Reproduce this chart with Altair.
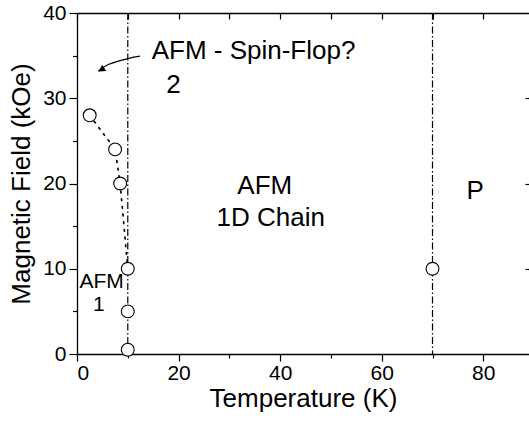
import altair as alt
import pandas as pd

# ---- data ----
pt_T = [2.5, 7.5, 8.5, 10.0, 10.0, 10.0, 70.0]
pt_H = [28.0, 24.0, 20.0, 10.0, 5.0, 0.5, 10.0]

dot_T = [2.5, 7.5, 8.5, 10.0]
dot_H = [28.0, 24.0, 20.0, 10.0]

boundary_T = [10, 70]

label_text = ["AFM - Spin-Flop?", "2", "AFM", "1D Chain", "P", "AFM", "1"]
label_T = [14.7, 19.0, 36.97, 38.15, 78.4, 4.86, 4.3]
label_H = [34.55, 30.64, 18.71, 14.99, 18.2, 7.8, 5.02]
label_size = [26, 26, 26, 26, 26, 21, 21]
label_align = ["left", "center", "center", "center", "center", "center", "center"]

arrow_T = [12.4, 10.04, 6.16, 4.19]
arrow_H = [34.93, 34.66, 33.96, 33.17]
head_T = [5.0]
head_H = [33.42]

x_ticks = [0, 10, 20, 30, 40, 50, 60, 70, 80]
y_ticks = [0, 5, 10, 15, 20, 25, 30, 35, 40]

FONT = "Liberation Sans"
xs = alt.Scale(domain=[0, 89], nice=False, zero=False)
ys = alt.Scale(domain=[0, 40], nice=False, zero=False)

pts = pd.DataFrame({"T": pt_T, "H": pt_H})
dots = pd.DataFrame({"T": dot_T, "H": dot_H, "o": list(range(len(dot_T)))})
bnd = pd.DataFrame({"T": boundary_T})
labels = pd.DataFrame({"T": label_T, "H": label_H, "txt": label_text,
                       "fs": label_size, "al": label_align})
arrow = pd.DataFrame({"T": arrow_T, "H": arrow_H, "o": list(range(len(arrow_T)))})
head = pd.DataFrame({"T": head_T, "H": head_H})

bottom_axis = alt.Axis(
    values=x_ticks, labelExpr="datum.value % 20 === 0 ? datum.label : ''",
    tickSize={"condition": {"test": "datum.value % 20 !== 0", "value": 4}, "value": 7},
    domain=True, grid=False, title="Temperature (K)", labelPadding=1, titlePadding=2,
)
left_axis = alt.Axis(
    values=y_ticks, labelExpr="datum.value % 10 === 0 ? datum.label : ''",
    tickSize={"condition": {"test": "datum.value % 10 !== 0", "value": 4.5}, "value": 8},
    domain=True, grid=False, title="Magnetic Field (kOe)", labelPadding=3, titlePadding=8,
)
top_ticks_axis = alt.Axis(orient="top", values=x_ticks, labels=False, tickSize=6, offset=-6,
                          domain=False, grid=False, title=None)
top_frame_axis = alt.Axis(orient="top", ticks=False, labels=False, domain=True,
                          grid=False, title=None)
right_axis = alt.Axis(orient="right", values=[10, 20, 30], labels=False, tickSize=4,
                      offset=-4, domain=False, grid=False, title=None)

vlines = alt.Chart(bnd).mark_rule(
    color="black", strokeWidth=1.2, strokeDash=[7, 2.5, 1.5, 2.5]
).encode(x=alt.X("T:Q", scale=xs, axis=top_ticks_axis))

dotted = alt.Chart(dots).mark_line(
    color="black", strokeWidth=1.7, strokeDash=[1.7, 6], strokeCap="round"
).encode(
    x=alt.X("T:Q", scale=xs, axis=None),
    y=alt.Y("H:Q", scale=ys, axis=right_axis),
    order="o:Q",
)

circles = alt.Chart(pts).mark_point(
    shape="circle", size=165, filled=True, fill="white", stroke="black",
    strokeWidth=1.1, opacity=1,
).encode(
    x=alt.X("T:Q", scale=xs, axis=bottom_axis),
    y=alt.Y("H:Q", scale=ys, axis=left_axis),
)


def text_layer(align):
    return alt.Chart(labels).transform_filter(
        alt.datum.al == align
    ).mark_text(font=FONT, color="black", baseline="alphabetic", align=align).encode(
        x=alt.X("T:Q", scale=xs, axis=None),
        y=alt.Y("H:Q", scale=ys, axis=None),
        text="txt:N",
        size=alt.Size("fs:Q", scale=None, legend=None),
    )


texts_left = text_layer("left")
texts_center = text_layer("center")

arrow_line = alt.Chart(arrow).mark_line(
    color="black", strokeWidth=1.3, interpolate="natural"
).encode(
    x=alt.X("T:Q", scale=xs, axis=top_frame_axis),
    y=alt.Y("H:Q", scale=ys, axis=None),
    order="o:Q",
)

arrow_head = alt.Chart(head).mark_point(
    shape="triangle", size=55, filled=True, color="black", angle=236, opacity=1
).encode(
    x=alt.X("T:Q", scale=xs, axis=None),
    y=alt.Y("H:Q", scale=ys, axis=None),
)

chart = alt.layer(
    vlines, dotted, circles, texts_left, texts_center, arrow_line, arrow_head
).resolve_axis(x="independent", y="independent").properties(
    width=452, height=341,
    background="white",
    autosize=alt.AutoSizeParams(type="none"),
    padding={"left": 77, "top": 13, "right": 0, "bottom": 70},
).configure_view(stroke=None).configure_axis(
    labelFont=FONT, labelFontSize=21, labelColor="black",
    titleFont=FONT, titleFontSize=26, titleFontWeight="normal", titleColor="black",
    tickColor="black", tickWidth=1.2, domainColor="black", domainWidth=1.3,
)

chart.save("out.html", embed_options={"renderer": "svg", "actions": False})
